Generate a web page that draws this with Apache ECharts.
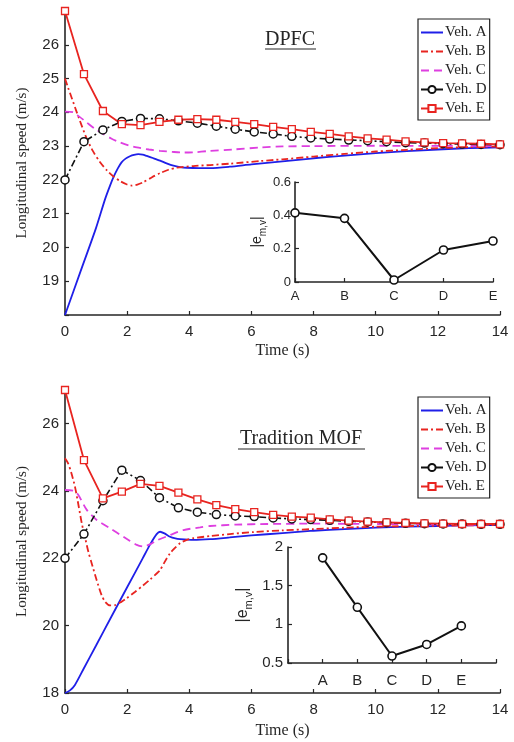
<!DOCTYPE html>
<html><head><meta charset="utf-8">
<script src="https://cdn.jsdelivr.net/npm/echarts@6/dist/echarts.min.js"></script>
<style>html,body{margin:0;padding:0;background:#fff}#c{width:514px;height:742px}</style>
</head><body><div id="c"></div><script>
// ---- data ----
const seriesNames = ['Veh. A', 'Veh. B', 'Veh. C', 'Veh. D', 'Veh. E'];
const markerT = [0, 0.61, 1.22, 1.83, 2.43, 3.04, 3.65, 4.26, 4.87, 5.48, 6.09, 6.70, 7.30, 7.91, 8.52, 9.13, 9.74, 10.35, 10.96, 11.57, 12.17, 12.78, 13.39, 14.0];

// DPFC
const dpfcA = [[0,18],[0.5,19.29],[1.0,20.58],[1.29,21.43],[1.45,21.83],[1.56,22.08],[1.7,22.34],[1.82,22.52],[1.95,22.63],[2.09,22.7],[2.22,22.74],[2.36,22.76],[2.5,22.75],[2.63,22.71],[2.85,22.64],[3.06,22.57],[3.27,22.49],[3.49,22.42],[3.7,22.38],[3.92,22.36],[4.3,22.35],[4.67,22.35],[5.3,22.39],[6,22.46],[7,22.55],[8,22.64],[9,22.72],[10,22.79],[11,22.85],[12,22.9],[13,22.94],[14,22.96]];
const dpfcB = [[0,25],[0.1,24.73],[0.2,24.47],[0.38,24.0],[0.54,23.6],[0.7,23.22],[0.9,22.85],[1.13,22.52],[1.35,22.28],[1.56,22.1],[1.78,21.96],[1.98,21.87],[2.15,21.83],[2.33,21.86],[2.52,21.93],[2.8,22.08],[3.06,22.2],[3.33,22.3],[3.6,22.36],[4.13,22.41],[4.67,22.44],[5.3,22.48],[6.3,22.56],[7,22.61],[8,22.69],[9,22.77],[10,22.84],[11,22.89],[12,22.94],[13,22.97],[14,22.99]];
const dpfcC = [[0,24.02],[0.27,24.0],[0.45,23.88],[0.7,23.7],[0.95,23.52],[1.23,23.36],[1.5,23.22],[1.77,23.11],[2.05,23.02],[2.31,22.96],[2.7,22.9],[3.06,22.86],[3.45,22.83],[3.8,22.81],[4.2,22.82],[4.56,22.85],[5.4,22.9],[6.3,22.96],[7,22.99],[8,23.0],[10,23.01],[14,23.0]];
const dpfcD = [22.0, 23.13, 23.48, 23.73, 23.82, 23.81, 23.75, 23.68, 23.59, 23.5, 23.42, 23.36, 23.29, 23.24, 23.21, 23.18, 23.16, 23.13, 23.1, 23.09, 23.07, 23.06, 23.05, 23.04];
const dpfcE = [27.0, 25.13, 24.04, 23.65, 23.62, 23.72, 23.78, 23.8, 23.78, 23.72, 23.65, 23.57, 23.5, 23.42, 23.36, 23.29, 23.23, 23.19, 23.14, 23.11, 23.09, 23.08, 23.07, 23.05];

// Tradition MOF
const mofA = [[0,18],[0.15,18.07],[0.32,18.24],[0.6,18.72],[1.0,19.41],[1.5,20.28],[2.0,21.14],[2.5,22.0],[2.75,22.43],[2.95,22.72],[3.06,22.79],[3.2,22.74],[3.38,22.64],[3.55,22.59],[3.7,22.57],[4.13,22.55],[4.67,22.57],[5.3,22.62],[6,22.68],[7,22.75],[8,22.82],[9,22.87],[10,22.91],[11,22.94],[12,22.96],[13,22.98],[14,22.99]];
const mofB = [[0,24.97],[0.1,24.82],[0.2,24.55],[0.32,24.13],[0.43,23.6],[0.54,23.04],[0.65,22.6],[0.75,22.2],[0.86,21.85],[1.02,21.35],[1.18,20.9],[1.3,20.7],[1.45,20.6],[1.61,20.61],[1.8,20.7],[1.98,20.81],[2.25,21.0],[2.52,21.2],[2.75,21.38],[2.95,21.55],[3.06,21.65],[3.2,21.88],[3.38,22.15],[3.55,22.32],[3.7,22.45],[3.9,22.54],[4.13,22.6],[4.67,22.66],[5.3,22.72],[6.06,22.78],[7,22.83],[8,22.87],[9,22.91],[10,22.94],[12,22.97],[14,22.99]];
const mofC = [[0,24.03],[0.3,24.0],[0.43,23.88],[0.7,23.44],[1.02,23.14],[1.45,22.89],[1.88,22.64],[2.31,22.4],[2.52,22.35],[2.75,22.42],[2.95,22.53],[3.38,22.69],[3.81,22.84],[4.35,22.92],[4.67,22.96],[5.5,23.0],[6.5,23.02],[8,23.03],[10,23.02],[14,23.0]];
const mofD = [22.0, 22.72, 23.71, 24.62, 24.31, 23.8, 23.5, 23.37, 23.3, 23.26, 23.24, 23.2, 23.17, 23.15, 23.13, 23.1, 23.08, 23.06, 23.04, 23.03, 23.02, 23.02, 23.01, 23.01];
const mofE = [27.0, 24.92, 23.78, 23.98, 24.21, 24.15, 23.95, 23.75, 23.58, 23.46, 23.37, 23.29, 23.24, 23.21, 23.16, 23.12, 23.09, 23.07, 23.05, 23.04, 23.03, 23.02, 23.02, 23.02];

// insets
const insetCats = ['A', 'B', 'C', 'D', 'E'];
const dpfcErr = [0.415, 0.382, 0.012, 0.192, 0.246];
const mofErr = [1.86, 1.22, 0.59, 0.74, 0.98];

// ---- styles ----
const AX = '#262626';
const SANS = '"Liberation Sans", Arial, sans-serif';
const SERIF = '"Liberation Serif", "Times New Roman", serif';
const BLUE = '#1f1fe8', RED = '#e82420', MAG = '#de3fe0', BLK = '#111111';
const DASHDOT = [7, 3, 2, 3];
const DASH = [8, 5];

function axisBase(extra) {
  return Object.assign({
    axisLine: {show: true, onZero: false, lineStyle: {color: AX, width: 1.6}},
    axisTick: {show: true, inside: true, length: 4, lineStyle: {color: AX, width: 1.2}},
    splitLine: {show: false},
    axisLabel: {color: AX, fontFamily: SANS, fontSize: 15},
  }, extra);
}
function zip(t, v) { return t.map((x, i) => [x, v[i]]); }

function mainSeries(idx, A, B, C, D, E) {
  const common = {type: 'line', xAxisIndex: idx, yAxisIndex: idx, animation: false, emphasis: {disabled: true}, z: 3};
  return [
    Object.assign({}, common, {name: seriesNames[0], data: A, smooth: 0.25, symbol: 'none', lineStyle: {color: BLUE, width: 1.8}, itemStyle: {color: BLUE}}),
    Object.assign({}, common, {name: seriesNames[1], data: B, smooth: 0.25, symbol: 'none', lineStyle: {color: RED, width: 1.8, type: DASHDOT}, itemStyle: {color: RED}}),
    Object.assign({}, common, {name: seriesNames[2], data: C, smooth: 0.25, symbol: 'none', lineStyle: {color: MAG, width: 1.8, type: DASH}, itemStyle: {color: MAG}}),
    Object.assign({}, common, {name: seriesNames[3], data: zip(markerT, D), symbol: 'circle', symbolSize: 8, showSymbol: true, lineStyle: {color: BLK, width: 1.6, type: DASHDOT}, itemStyle: {color: '#fff', borderColor: BLK, borderWidth: 1.5}}),
    Object.assign({}, common, {name: seriesNames[4], data: zip(markerT, E), symbol: 'rect', symbolSize: 7, showSymbol: true, lineStyle: {color: RED, width: 1.8}, itemStyle: {color: '#fff', borderColor: RED, borderWidth: 1.3}}),
  ];
}
function insetSeries(idx, vals) {
  return {type: 'line', xAxisIndex: idx, yAxisIndex: idx, animation: false, emphasis: {disabled: true}, z: 5,
    data: vals.map((v, i) => [i, v]), symbol: 'circle', symbolSize: 8, showSymbol: true,
    lineStyle: {color: BLK, width: 2}, itemStyle: {color: '#fff', borderColor: BLK, borderWidth: 1.6}};
}

const hiddenMark = {opacity: 0};
const legendData = [
  {name: seriesNames[0], itemStyle: hiddenMark},
  {name: seriesNames[1], itemStyle: hiddenMark},
  {name: seriesNames[2], itemStyle: hiddenMark},
  {name: seriesNames[3]},
  {name: seriesNames[4]}
];
const legendBase = {
  orient: 'vertical', left: 418, selectedMode: false, data: legendData,
  itemWidth: 22, itemHeight: 9, itemGap: 4, padding: [6, 3, 4, 2],
  borderColor: '#222', borderWidth: 1.2, backgroundColor: '#fff',
  textStyle: {fontFamily: SERIF, fontSize: 15, color: AX, padding: [0, 0, 0, -3]}
};
const subRich = {
  a: {fontFamily: SANS, fontSize: 14, color: AX, lineHeight: 22},
  s: {fontFamily: SANS, fontSize: 10, color: AX, lineHeight: 12, verticalAlign: 'bottom'}
};

const option = {
  backgroundColor: '#fff',
  animation: false,
  grid: [
    {left: 65, top: 11, width: 435, height: 304, containLabel: false},
    {left: 65, top: 390, width: 435, height: 303, containLabel: false},
    {left: 295, top: 182, width: 198, height: 100, containLabel: false},
    {left: 288, top: 547, width: 208, height: 116, containLabel: false}
  ],
  xAxis: [
    axisBase({type: 'value', gridIndex: 0, min: 0, max: 14, interval: 2, name: 'Time (s)', nameLocation: 'middle', nameGap: 28,
      nameTextStyle: {fontFamily: SERIF, fontSize: 16, color: AX}, axisLabel: {color: AX, fontFamily: SANS, fontSize: 15, margin: 9}}),
    axisBase({type: 'value', gridIndex: 1, min: 0, max: 14, interval: 2, name: 'Time (s)', nameLocation: 'middle', nameGap: 30,
      nameTextStyle: {fontFamily: SERIF, fontSize: 16, color: AX}, axisLabel: {color: AX, fontFamily: SANS, fontSize: 15, margin: 9}}),
    axisBase({type: 'value', gridIndex: 2, min: 0, max: 4, interval: 1,
      axisLabel: {color: AX, fontFamily: SANS, fontSize: 13, margin: 8, formatter: v => insetCats[v] || ''}}),
    axisBase({type: 'value', gridIndex: 3, min: -1, max: 5, interval: 1,
      axisLabel: {color: AX, fontFamily: SANS, fontSize: 15, margin: 10, formatter: v => insetCats[v] || ''}})
  ],
  yAxis: [
    axisBase({type: 'value', gridIndex: 0, min: 18, max: 27, interval: 1, name: 'Longitudinal speed (m/s)', nameLocation: 'middle', nameGap: 35,
      nameTextStyle: {fontFamily: SERIF, fontSize: 15, color: AX},
      axisLabel: {color: AX, fontFamily: SANS, fontSize: 15, margin: 6, formatter: v => (v <= 18 || v >= 27) ? '' : String(v)}}),
    axisBase({type: 'value', gridIndex: 1, min: 18, max: 27, interval: 2, name: 'Longitudinal speed (m/s)', nameLocation: 'middle', nameGap: 35,
      nameTextStyle: {fontFamily: SERIF, fontSize: 15, color: AX},
      axisLabel: {color: AX, fontFamily: SANS, fontSize: 15, margin: 6, formatter: v => (v >= 27) ? '' : String(v)}}),
    axisBase({type: 'value', gridIndex: 2, min: 0, max: 0.6, interval: 0.2, name: '{a||e}{s|m,v}{a||}', nameLocation: 'middle', nameGap: 27,
      nameTextStyle: {rich: subRich},
      axisLabel: {color: AX, fontFamily: SANS, fontSize: 13, margin: 4, formatter: v => String(Math.round(v * 10) / 10)}}),
    axisBase({type: 'value', gridIndex: 3, min: 0.5, max: 2, interval: 0.5, name: '{a||e}{s|m,v}{a||}', nameLocation: 'middle', nameGap: 34,
      nameTextStyle: {rich: {a: Object.assign({}, subRich.a, {fontSize: 16}), s: Object.assign({}, subRich.s, {fontSize: 11})}},
      axisLabel: {color: AX, fontFamily: SANS, fontSize: 15, margin: 5}})
  ],
  legend: [
    Object.assign({}, legendBase, {top: 19}),
    Object.assign({}, legendBase, {top: 397})
  ],
  graphic: [
    {type: 'text', style: {text: 'DPFC', x: 290, y: 40, align: 'center', verticalAlign: 'middle', font: '20px "Liberation Serif", serif', fill: AX}},
    {type: 'line', shape: {x1: 265, y1: 49, x2: 316, y2: 49}, style: {stroke: AX, lineWidth: 1.2}},
    {type: 'text', style: {text: 'Tradition MOF', x: 301, y: 439, align: 'center', verticalAlign: 'middle', font: '20px "Liberation Serif", serif', fill: AX}},
    {type: 'line', shape: {x1: 238, y1: 449, x2: 365, y2: 449}, style: {stroke: AX, lineWidth: 1.2}}
  ],
  series: [].concat(
    mainSeries(0, dpfcA, dpfcB, dpfcC, dpfcD, dpfcE),
    mainSeries(1, mofA, mofB, mofC, mofD, mofE),
    [insetSeries(2, dpfcErr), insetSeries(3, mofErr)]
  )
};
const chart = echarts.init(document.getElementById('c'), null, {renderer: 'canvas'});
chart.setOption(option);
</script></body></html>
